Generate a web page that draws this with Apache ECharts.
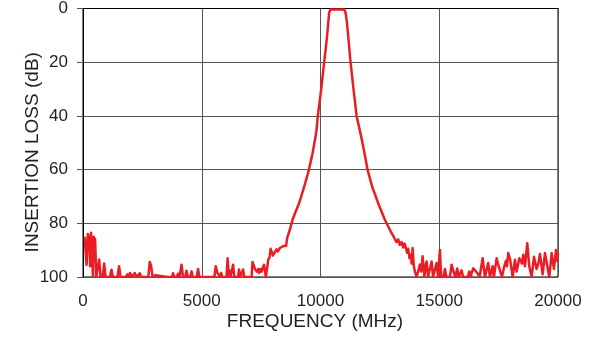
<!DOCTYPE html>
<html>
<head>
<meta charset="utf-8">
<script src="https://cdn.jsdelivr.net/npm/echarts@6/dist/echarts.min.js"></script>
<style>html,body{margin:0;padding:0;background:#fff}#c{width:596px;height:342px}</style>
</head>
<body>
<div id="c"></div>
<script>
var xTicks = [0, 5000, 10000, 15000, 20000];
var yTicks = [0, 20, 40, 60, 80, 100];
var freqMHz = [70,150,200,260,300,340,380,420,450,510,560,
620,680,740,830,890,950,1130,1200,1260,1450,1520,1580,1800,1870,1930,1980,2050,2120,2180,2250,2330,2390,2450,
2750,2810,2870,2930,3000,3060,3120,3550,3580,3620,3750,3790,3840,3950,4000,4060,4100,4150,4210,4300,4360,4420,4520,4570,4620,4790,4845,4900,4980,5040,
5430,5480,5530,5590,5660,5730,5780,5820,5860,6040,6090,6140,6160,6210,6280,6320,6370,6530,6570,6620,6700,6740,6790,
7100,7137,7200,7240,7290,7330,7380,7420,7470,7520,7570,7620,7660,7700,7760,7800,7860,7900,7940,8000,8060,8150,8200,8290,8350,8430,8500,8550,
8595,8709,8822,8960,9100,9311,9509,9664,9791,9832,9888,10030,10153,10220,10280,10330,10364,10423,10600,10800,10996,11055,11110,11165,11215,11265,11390,11520,11620,11720,11855,11980,12176,12429,12711,12922,12980,13040,13080,13132,
13200,13271,13340,13414,13482,13540,13595,13650,13692,13750,13794,13840,13878,13930,13975,14046,14120,14185,14240,14299,14375,14420,14468,14530,14600,14678,14740,14800,14889,14950,14990,15028,15080,15180,15239,15300,15450,15521,15580,15620,15680,15757,15820,15870,15942,16000,16200,16264,16330,16362,16432,16500,16600,16700,
16826,16925,17000,17062,17132,17200,17247,17300,17360,17416,17470,17530,17640,17738,17808,17850,17906,17989,18090,18187,18258,18370,18420,18480,18538,18608,18706,18790,18890,18988,19100,19170,19241,19353,19452,19550,19634,19733,19830,19916,19972,20000];
var lossDb = [85,95.5,84,85.5,96,83.5,84,100,85,86,100,
100,93.5,100,100,95,100,100,97.3,100,100,96,100,100,99,100,98.5,100,100,98.5,100,100,98.6,100,
100,94.4,96,100,100,99.3,100,100,99.5,100,100,98.6,100,100,98.8,100,100,95.4,100,100,97.7,100,100,97.9,100,100,97,100,99.3,100,
100,99.3,100,96,98.5,97.9,100,98.5,100,100,93,100,97.5,100,100,95.4,100,100,97.2,100,100,97.2,100,
100,94.4,96,97,96.5,98,97,98.5,97,98,96.5,95.5,96,100,100,93.5,92.5,89.5,89,92,91,89.7,90.5,89.2,89.8,88.5,88,88.5,
85.5,82.4,78.7,75.5,72.5,66.4,60.2,54,47.8,45.3,40,30,20,15,10,5,1.5,0.4,0.4,0.4,0.4,1.5,5,10,15,20,30,40,44,48,54,60,66.4,72.5,78.7,82.4,83.5,82.8,85,85.5,
87,86,88,87,89,87.5,88,91,89.5,93,91.7,95,89.2,96,98,100,100,95.4,98,92.3,100,96,94.2,100,100,94.2,100,100,94.8,100,100,89.9,100,100,97,100,100,95.4,97.5,96.8,100,96.8,100,100,97.5,100,100,98,100,98.5,96.8,97,98.5,100,
93,100,100,94.8,100,100,96,100,100,93,95,94.8,100,96,94,96,91.1,93.6,100,93.6,98,93,92.5,95,91.7,96,87.4,96,100,92.5,97,95,91.4,99,91.1,96,100,91.1,97,89.9,94,91];

var pts = freqMHz.map(function (f, i) { return [f, lossDb[i]]; });
var font = "'Liberation Sans', Arial, sans-serif";
var txt = '#231f20';
var chart = echarts.init(document.getElementById('c'), null, {renderer: 'canvas'});
chart.setOption({
  animation: false,
  backgroundColor: '#fff',
  grid: {left: 83, right: 38, top: 8, bottom: 65, show: true, borderColor: '#000', borderWidth: 1, backgroundColor: 'transparent'},
  xAxis: {
    type: 'value', min: xTicks[0], max: xTicks[xTicks.length - 1], interval: 5000,
    name: 'FREQUENCY (MHz)', nameLocation: 'middle', nameGap: 35, nameMoveOverlap: false,
    nameTextStyle: {fontFamily: font, fontSize: 19, color: txt, padding: [0, 11, 0, 0]},
    axisLine: {show: true, lineStyle: {color: '#000', width: 1}},
    axisTick: {show: false},
    axisLabel: {fontFamily: font, fontSize: 17, color: txt, margin: 16, formatter: function (v) { return String(v); }},
    splitLine: {show: true, lineStyle: {color: '#555', width: 1}}
  },
  yAxis: {
    type: 'value', inverse: true, min: yTicks[0], max: yTicks[yTicks.length - 1], interval: 20,
    name: 'INSERTION LOSS (dB)', nameLocation: 'middle', nameGap: 41, nameRotate: 90, nameMoveOverlap: false,
    nameTextStyle: {fontFamily: font, fontSize: 19, color: txt, padding: [0, 19, 0, 0]},
    axisLine: {show: true, lineStyle: {color: '#000', width: 1}},
    axisTick: {show: true, length: 6, lineStyle: {color: '#555'}},
    axisLabel: {fontFamily: font, fontSize: 17, color: txt, margin: 15},
    splitLine: {show: true, lineStyle: {color: '#555', width: 1}}
  },
  series: [{
    type: 'line', data: pts, showSymbol: false, clip: true,
    lineStyle: {color: '#ec1c24', width: 2.5, join: 'round'},
    itemStyle: {color: '#ec1c24'}
  }]
});
</script>
</body>
</html>
